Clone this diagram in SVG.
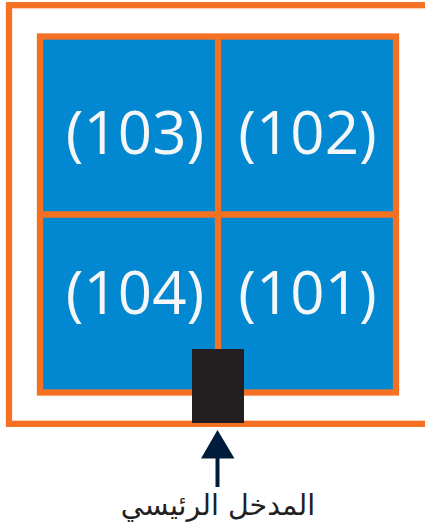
<svg xmlns="http://www.w3.org/2000/svg" width="425" height="531" viewBox="0 0 425 531">
<style>
.room{fill:#0288d1}
.wall{fill:none;stroke:#f47124;stroke-width:6.3}
.num{font-family:"Open Sans","Noto Sans",sans-serif;font-size:60px;fill:#f4f6f7;text-anchor:middle}
.lab{font-family:"DejaVu Sans",sans-serif;font-size:28.500px;fill:#231f20;text-anchor:middle}
</style>
<rect width="425" height="531" fill="#fff"/>
<g id="building"><rect class="wall" x="9" y="5.2" width="422" height="418.6"/></g>
<g id="room-103"><rect class="room" x="40" y="36.5" width="178" height="178"/><text class="num" x="135" y="154">(103)</text></g>
<g id="room-102"><rect class="room" x="218" y="36.5" width="178" height="178"/><text class="num" x="307.500" y="154">(102)</text></g>
<g id="room-104"><rect class="room" x="40" y="214.500" width="178" height="178"/><text class="num" x="135" y="314">(104)</text></g>
<g id="room-101"><rect class="room" x="218" y="214.500" width="178" height="178"/><text class="num" x="307.500" y="314">(101)</text></g>
<g id="walls"><rect class="wall" x="40" y="36.500" width="356" height="356"/><path class="wall" d="M218 36.500V392.500M40 214.500H396"/></g>
<g id="door"><rect x="192" y="349" width="52" height="74" fill="#231f20"/></g>
<g id="connectors"><path d="M217.500 487V456" stroke="#001c3d" stroke-width="4" fill="none"/><path d="M217.500 430L234.500 458.500H201Z" fill="#001c3d"/></g>
<g id="label"><text class="lab" x="218" y="515" direction="rtl">المدخل الرئيسي</text></g>
</svg>
